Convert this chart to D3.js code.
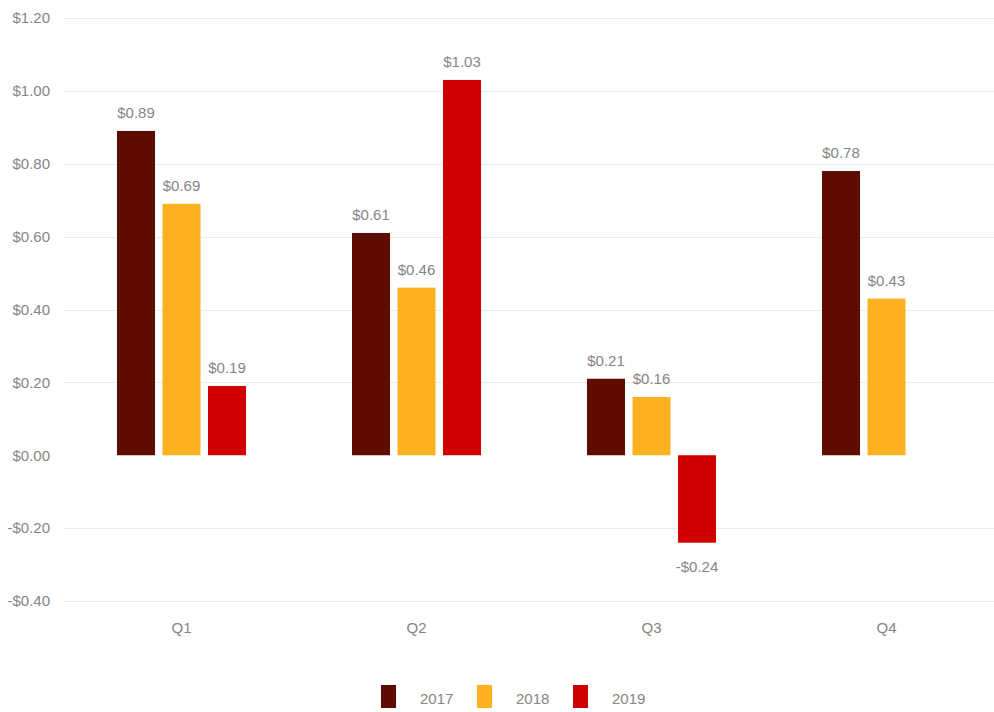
<!DOCTYPE html>
<html>
<head>
<meta charset="utf-8">
<script src="https://cdn.jsdelivr.net/npm/d3@7"></script>
<style>
  html, body { margin: 0; padding: 0; background: #ffffff; }
  svg { display: block; font-family: "Liberation Sans", Arial, sans-serif; }
</style>
</head>
<body>
<svg id="chart" width="994" height="712"></svg>
<script>
// Quarterly values per year (null = not reported)
const quarters = ["Q1", "Q2", "Q3", "Q4"];
const years = ["2017", "2018", "2019"];
const values2017 = [0.89, 0.61, 0.21, 0.78];
const values2018 = [0.69, 0.46, 0.16, 0.43];
const values2019 = [0.19, 1.03, -0.24, null];
const yTicks = [-0.4, -0.2, 0, 0.2, 0.4, 0.6, 0.8, 1.0, 1.2];
const colors = ["#5e0b00", "#fdb120", "#d00000"];

const seriesValues = [values2017, values2018, values2019];
const rows = [];
quarters.forEach((q, qi) => {
  years.forEach((yr, yi) => {
    const v = seriesValues[yi][qi];
    if (v !== null) rows.push({ quarter: q, year: yr, value: v, color: colors[yi] });
  });
});

const svg = d3.select("#chart");
const textColor = "#858585";

const y = d3.scaleLinear().domain([-0.4, 1.2]).range([601, 18]);
const x0 = d3.scaleBand().domain(quarters).range([64, 1004]).padding(0);
const groupWidth = 129;
const x1 = d3.scaleBand().domain(years).range([0, groupWidth]).paddingInner(0.165).paddingOuter(0);
const groupOffset = (x0.bandwidth() - groupWidth) / 2;

const fmt = v => (v < 0 ? "-$" : "$") + Math.abs(v).toFixed(2);

// Horizontal gridlines (no line at zero)
svg.append("g")
  .selectAll("line")
  .data(yTicks.filter(t => t !== 0))
  .join("line")
  .attr("x1", 64).attr("x2", 994)
  .attr("y1", d => Math.round(y(d)) + 0.5)
  .attr("y2", d => Math.round(y(d)) + 0.5)
  .attr("stroke", "#ececec")
  .attr("stroke-width", 1);

// Y axis labels
const yAxis = d3.axisLeft(y).tickValues(yTicks).tickFormat(fmt).tickSize(0).tickPadding(0);
const gy = svg.append("g").attr("transform", "translate(50,0)").call(yAxis);
gy.select(".domain").remove();
gy.selectAll("text")
  .attr("fill", textColor)
  .attr("font-size", 15)
  .attr("font-family", "'Liberation Sans', Arial, sans-serif");

// X axis labels
const xAxis = d3.axisBottom(x0).tickSize(0).tickPadding(0);
const gx = svg.append("g").attr("transform", "translate(0,622)").call(xAxis);
gx.select(".domain").remove();
gx.selectAll("text")
  .attr("fill", textColor)
  .attr("font-size", 15)
  .attr("font-family", "'Liberation Sans', Arial, sans-serif");

// Bars
const barX = d => x0(d.quarter) + groupOffset + x1(d.year);
svg.append("g")
  .selectAll("rect")
  .data(rows)
  .join("rect")
  .attr("x", barX)
  .attr("width", x1.bandwidth())
  .attr("y", d => y(Math.max(0, d.value)))
  .attr("height", d => Math.abs(y(d.value) - y(0)))
  .attr("fill", d => d.color);

// Value labels
svg.append("g")
  .selectAll("text")
  .data(rows)
  .join("text")
  .attr("x", d => barX(d) + x1.bandwidth() / 2)
  .attr("y", d => d.value >= 0 ? y(d.value) - 13 : y(d.value) + 29)
  .attr("text-anchor", "middle")
  .attr("fill", textColor)
  .attr("font-size", 15)
  .text(d => fmt(d.value));

// Legend
const legend = svg.append("g")
  .selectAll("g")
  .data(years)
  .join("g")
  .attr("transform", (d, i) => `translate(${381 + i * 96},685)`);
legend.append("rect")
  .attr("width", 15).attr("height", 23)
  .attr("fill", (d, i) => colors[i]);
legend.append("text")
  .attr("x", 39).attr("y", 19)
  .attr("fill", textColor)
  .attr("font-size", 15)
  .text(d => d);
</script>
</body>
</html>
